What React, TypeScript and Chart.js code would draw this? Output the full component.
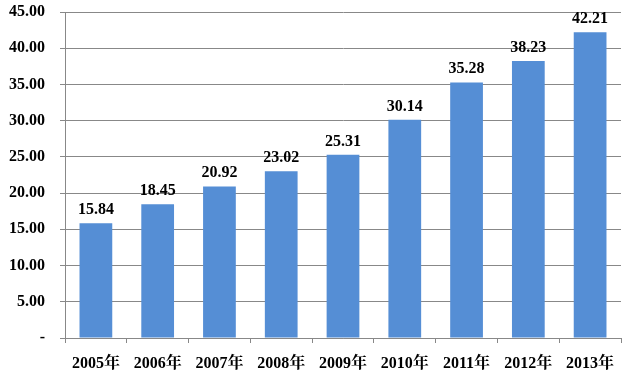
import React, { useEffect, useRef } from "react";
import { Chart, registerables } from "chart.js";

Chart.register(...registerables);

const categories = ["2005年", "2006年", "2007年", "2008年", "2009年", "2010年", "2011年", "2012年", "2013年"];
const values = [15.84, 18.45, 20.92, 23.02, 25.31, 30.14, 35.28, 38.23, 42.21];
const yMin = 0;
const yMax = 45;
const yStep = 5;

const FONT = "'Liberation Serif', 'Noto Serif CJK SC', 'Noto Sans CJK SC', serif";

const valueLabels = {
  id: "valueLabels",
  afterDatasetsDraw(chart: any) {
    const ctx = chart.ctx;
    const meta = chart.getDatasetMeta(0);
    ctx.save();
    ctx.font = `bold 16px ${FONT}`;
    ctx.fillStyle = "#000";
    ctx.textAlign = "center";
    ctx.textBaseline = "alphabetic";
    meta.data.forEach((bar: any, i: number) => {
      ctx.fillText(values[i].toFixed(2), bar.x, bar.y - 9);
    });
    ctx.restore();
  },
};

export default function App() {
  const ref = useRef<HTMLCanvasElement>(null);
  useEffect(() => {
    if (!ref.current) return;
    const chart = new Chart(ref.current, {
      type: "bar",
      data: {
        labels: categories,
        datasets: [
          {
            data: values,
            backgroundColor: "#558ED5",
            borderWidth: 0,
            categoryPercentage: 1,
            barPercentage: 0.53,
          },
        ],
      },
      plugins: [valueLabels],
      options: {
        animation: false,
        responsive: false,
        maintainAspectRatio: false,
        layout: { padding: { top: 12, right: 3, left: 0, bottom: 0 } },
        plugins: { legend: { display: false }, tooltip: { enabled: false } },
        scales: {
          x: {
            grid: {
              drawOnChartArea: false,
              drawTicks: true,
              tickLength: 5,
              color: "#888888",
              offset: true,
            },
            border: { display: true, color: "#888888", width: 1 },
            ticks: {
              color: "#000",
              padding: 11,
              font: { family: FONT, size: 16, weight: "bold" },
              maxRotation: 0,
              autoSkip: false,
            },
            afterFit(scale: any) {
              scale.height = 41;
              scale.paddingLeft = 0;
              scale.paddingRight = 0;
            },
          },
          y: {
            min: yMin,
            max: yMax,
            grid: { color: "#888888", tickLength: 5, lineWidth: 1 },
            border: { display: true, color: "#888888", width: 1 },
            ticks: {
              stepSize: yStep,
              color: "#000",
              padding: 15,
              font: { family: FONT, size: 16, weight: "bold" },
              callback: (v: any) => (Number(v) === 0 ? "-" : Number(v).toFixed(2)),
            },
            afterFit(scale: any) {
              scale.width = 65;
              scale.paddingTop = 0;
              scale.paddingBottom = 0;
            },
          },
        },
      },
    });
    return () => chart.destroy();
  }, []);
  return (
    <div style={{ position: "fixed", left: 0, top: 0, width: 624, height: 379, background: "#fff" }}>
      <canvas ref={ref} width={624} height={379} style={{ width: 624, height: 379, display: "block" }} />
    </div>
  );
}
